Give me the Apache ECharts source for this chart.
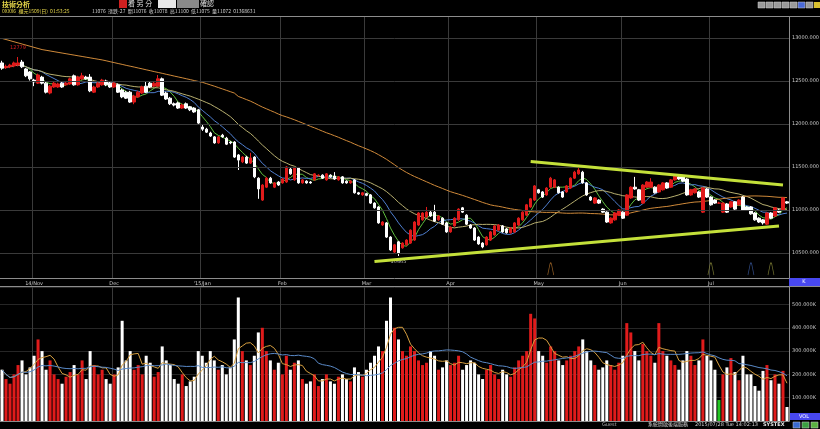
<!DOCTYPE html>
<html><head><meta charset="utf-8">
<script src="https://cdn.jsdelivr.net/npm/echarts@6/dist/echarts.min.js"></script>
<style>html,body{margin:0;padding:0;background:#000;overflow:hidden}#c{width:820px;height:429px}</style>
</head><body><div id="c"></div>
<script>
const opens = [12710,12655,12665,12675,12685,12720,12640,12605,12510,12475,12545,12475,12360,12430,12430,12475,12455,12465,12560,12455,
12525,12545,12545,12370,12430,12455,12500,12475,12430,12455,12395,12370,12370,12255,12315,12360,12440,12475,12440,12440,
12525,12360,12300,12235,12245,12185,12235,12200,12185,12165,11965,11940,11895,11850,11780,11870,11835,11790,11790,11640,
11560,11615,11545,11615,11370,11115,11265,11370,11265,11325,11315,11325,11475,11350,11490,11315,11335,11325,11350,11400,
11405,11350,11405,11395,11350,11385,11335,11315,11350,11200,11175,11190,11175,11080,11035,10825,10850,10685,10510,10630,
10560,10595,10615,10650,10825,10885,10920,10975,10975,10885,10905,10850,10745,10815,10885,11025,10940,10825,10790,10685,
10615,10595,10650,10710,10765,10815,10780,10735,10745,10825,10885,10940,11035,11115,11235,11210,11175,11265,11265,11265,
11210,11210,11255,11370,11420,11440,11315,11150,11080,11115,11010,10975,10850,10885,10940,10975,10940,11140,11265,11235,
11080,11265,11265,11265,11210,11235,11315,11265,11350,11385,11385,11360,11175,11200,11210,10975,11245,11150,11115,11080,
10975,11070,11035,11095,11060,11150,11035,11035,10965,10905,10885,10835,10965,10930,11000,11000,11095];
const closes = [12650,12670,12685,12710,12710,12665,12560,12525,12490,12570,12475,12370,12440,12475,12465,12430,12475,12525,12455,12545,
12560,12525,12385,12430,12475,12510,12455,12430,12475,12370,12315,12300,12255,12325,12370,12430,12370,12430,12475,12525,
12335,12290,12235,12220,12185,12220,12185,12165,12140,12010,11940,11905,11860,11780,11850,11850,11765,11780,11615,11580,
11615,11545,11605,11385,11245,11290,11370,11315,11315,11290,11360,11500,11420,11490,11315,11350,11315,11315,11420,11405,
11370,11420,11385,11360,11385,11315,11315,11335,11200,11185,11200,11170,11080,11025,10850,10860,10685,10535,10595,10500,
10615,10650,10765,10860,10965,10965,10975,10930,10870,10930,10835,10745,10800,10905,11010,10975,10835,10790,10650,10605,
10570,10685,10745,10815,10825,10745,10735,10790,10850,10905,10975,11060,11130,11280,11200,11150,11255,11370,11350,11200,
11150,11280,11370,11440,11465,11315,11175,11115,11140,11080,10975,10860,10905,10965,11000,10905,11175,11265,11245,11115,
11290,11325,11325,11200,11290,11315,11255,11350,11395,11360,11335,11175,11235,11245,11150,11255,11150,11060,11080,11080,
11080,10975,11095,11010,11115,11000,11000,10955,10885,10860,10850,10965,10905,11025,10975,11140,11080];
const lows = [12630,12640,12650,12660,12670,12650,12545,12505,12440,12465,12460,12355,12345,12420,12420,12420,12445,12455,12445,12445,
12510,12515,12370,12360,12420,12445,12440,12420,12420,12360,12300,12290,12245,12230,12305,12350,12360,12420,12430,12430,
12325,12280,12220,12205,12175,12175,12175,12150,12130,12000,11920,11895,11850,11770,11770,11840,11755,11765,11605,11465,
11545,11535,11535,11370,11130,11105,11255,11305,11255,11280,11305,11315,11410,11340,11305,11305,11305,11305,11340,11390,
11360,11340,11375,11350,11340,11305,11305,11305,11190,11175,11165,11160,11070,11015,10840,10815,10675,10525,10500,10465,
10550,10585,10605,10640,10815,10875,10910,10920,10860,10875,10825,10735,10735,10805,10875,10965,10825,10780,10640,10595,
10555,10585,10640,10700,10755,10735,10725,10725,10735,10815,10875,10930,11025,11105,11190,11140,11165,11255,11255,11190,
11140,11200,11245,11360,11410,11305,11165,11105,11070,11070,10965,10850,10840,10875,10930,10895,10930,11130,11235,11105,
11070,11255,11255,11190,11200,11225,11245,11255,11340,11350,11325,11165,11165,11190,11140,10965,11140,11050,11070,11070,
10965,10965,11025,11000,11050,10990,10990,10945,10875,10850,10830,10825,10895,10920,10965,10990,11070];
const highs = [12735,12690,12700,12725,12779,12745,12650,12615,12525,12585,12560,12490,12455,12490,12480,12490,12490,12540,12575,12560,
12595,12560,12580,12445,12490,12525,12515,12490,12490,12470,12410,12385,12385,12340,12385,12445,12490,12490,12490,12570,
12540,12375,12315,12250,12260,12235,12250,12210,12195,12175,11990,11955,11910,11860,11860,11885,11850,11800,11800,11650,
11625,11630,11665,11625,11380,11300,11385,11385,11325,11335,11370,11510,11490,11500,11500,11360,11345,11335,11430,11415,
11415,11430,11415,11440,11395,11395,11345,11345,11360,11210,11210,11200,11185,11090,11045,10870,10860,10695,10605,10640,
10625,10660,10775,10870,10975,10975,11035,10990,11060,10940,10915,10860,10810,10915,11020,11035,10950,10835,10800,10695,
10625,10695,10755,10825,10835,10825,10790,10800,10860,10915,10985,11070,11140,11290,11245,11220,11265,11385,11360,11275,
11220,11290,11380,11455,11500,11455,11325,11160,11150,11125,11020,10985,10915,10975,11010,10985,11185,11275,11385,11245,
11300,11335,11370,11275,11300,11325,11325,11360,11405,11395,11395,11370,11245,11255,11220,11265,11255,11160,11125,11095,
11090,11080,11105,11105,11125,11160,11045,11045,10975,10915,10895,10975,10975,11035,11010,11150,11105];
const volumes = [220,180,160,200,240,260,200,230,280,350,300,220,260,200,180,160,190,210,240,200,
260,180,300,240,200,220,180,160,200,230,430,260,300,220,240,200,280,250,190,210,
320,260,240,180,160,200,150,170,190,300,280,250,300,260,220,240,200,230,350,530,
300,260,240,280,380,400,300,260,220,250,200,280,220,250,260,180,160,170,200,150,
180,200,170,160,190,200,180,170,230,210,190,220,250,280,320,300,430,530,400,350,
300,280,320,300,260,240,250,300,280,220,230,260,240,250,280,220,240,260,250,200,
180,220,240,200,180,220,200,190,230,260,280,300,460,440,300,280,250,320,300,260,
240,260,280,300,320,350,300,260,240,220,230,260,240,220,250,280,420,380,300,260,
330,300,280,250,420,300,280,260,240,220,260,300,280,240,260,350,280,260,220,90,
200,230,270,210,175,280,200,200,150,130,215,240,175,200,160,215,60];
const ma60Head = [12995,12982,12969,12956,12943,12930,12917,12904,12891,12878,12865,12857,12849,12841,12833,12825,12817,12809,12801,12793,
12785,12777,12769,12761,12753,12745,12735,12724,12714,12703,12693,12682,12672,12662,12651,12641,12630,12620,12609,12599,
12589,12578,12568,12557,12547,12537,12526,12516,12505,12495,12485,12470,12455,12440,12424,12408,12392,12376,12360];
const monthStarts = [8,28,50,70,91,112,134,155,177];
const monthLabels = ['14/Nov','Dec',"'15/Jan",'Feb','Mar','Apr','May','Jun','Jul'];
const priceTicks = [10500,11000,11500,12000,12500,13000];
const upperTrend = [[132,11563],[195,11291]];
const lowerTrend = [[93,10402],[194,10814]];
const signalIdx = [137,177,187,192];
const signalColors = ['#b0702a','#8a8a3a','#3a5aa0','#8a8a3a'];

const N = closes.length;
const cats = closes.map((_, i) => String(i));
function avg(a){let s=0;for(const v of a)s+=v;return s/a.length;}
function ma(arr,n){return arr.map((_,i)=>+avg(arr.slice(Math.max(0,i-n+1),i+1)).toFixed(2));}
const ma5 = ma(closes,5), ma10 = ma(closes,10), ma20 = ma(closes,20);
const ma60 = closes.map((_,i)=> i<59 ? ma60Head[i] : +avg(closes.slice(i-59,i+1)).toFixed(2));
const vol = volumes.map(v=>v*1000);
const vma5 = ma(vol,5), vma20 = ma(vol,20);
const candles = closes.map((c,i)=>[opens[i],c,lows[i],highs[i]]);
let hiI=0, loI=0;
highs.forEach((h,i)=>{if(h>highs[hiI])hiI=i;});
lows.forEach((l,i)=>{if(l<lows[loI])loI=i;});
const RED='#e01b1b', WHITE='#ffffff';
const volBars = vol.map((v,i)=>({value:v,itemStyle:{color: closes[i]>opens[i]?RED:(closes[i]<opens[i]?WHITE:'#22c422')}}));
const GRID='#3a3a3a', AX='#8c8c8c', TXT='#c8c8c8';
const F5='5px "DejaVu Sans"';
const isMonth = (i)=>monthStarts.indexOf(i)>=0;

const chart = echarts.init(document.getElementById('c'), null, {renderer:'canvas'});
const lineS = (name,data,color,xi)=>({name,type:'line',data,xAxisIndex:xi,yAxisIndex:xi,symbol:'none',smooth:false,lineStyle:{color,width:1},silent:true,z:3});
const icons = [];
[758,766,774,782,790,798,806].forEach((x,k)=>icons.push({type:'rect',shape:{x:x,y:2,width:7,height:6},style:{fill:k===5?'#4a6ad8':'#9a9a9a',stroke:'#cfcfcf',lineWidth:0.5}}));
icons.push({type:'rect',shape:{x:814,y:2,width:6,height:6},style:{fill:'#d8c030'}});
[[793,'#3a6ad0'],[802,'#3aa040'],[811,'#5ab040']].forEach(([x,c])=>icons.push({type:'rect',shape:{x:x,y:422,width:7,height:6},style:{fill:c,stroke:'#cfcfcf',lineWidth:0.5}}));
chart.setOption({
  backgroundColor:'#000',
  animation:false,
  grid:[{left:0,right:31,top:17,height:261},{left:0,right:31,top:287,height:134}],
  xAxis:[
    {type:'category',gridIndex:0,data:cats,boundaryGap:true,
     axisLine:{lineStyle:{color:AX}},axisTick:{show:false},
     axisLabel:{interval:(i)=>isMonth(i),formatter:(v,i)=>monthLabels[monthStarts.indexOf(+v)]||'',color:TXT,fontSize:5,margin:3,fontFamily:'DejaVu Sans'},
     splitLine:{show:true,interval:(i)=>isMonth(i),lineStyle:{color:GRID,width:1}}},
    {type:'category',gridIndex:1,data:cats,boundaryGap:true,
     axisLine:{lineStyle:{color:AX}},axisTick:{show:false},axisLabel:{show:false},
     splitLine:{show:true,interval:(i)=>isMonth(i),lineStyle:{color:GRID,width:1}}}
  ],
  yAxis:[
    {type:'value',gridIndex:0,position:'right',min:10209,max:13244,axisLine:{show:true,lineStyle:{color:AX}},axisLabel:{show:false},axisTick:{show:false},splitLine:{show:false}},
    {type:'value',gridIndex:1,position:'right',min:0,max:575000,interval:100000,axisLine:{show:true,lineStyle:{color:AX}},axisTick:{show:false},
     axisLabel:{showMinLabel:false,showMaxLabel:false,color:TXT,fontSize:5,margin:3,fontFamily:'DejaVu Sans',formatter:(v)=>(v%100000===0&&v>0)?(v/1000).toFixed(3)+'K':''},
     splitLine:{show:true,lineStyle:{color:'#262626'}}}
  ],
  series:[
    {type:'line',xAxisIndex:0,yAxisIndex:0,data:[],silent:true,z:1,
     markLine:{silent:true,symbol:['none','none'],lineStyle:{color:GRID,type:'solid',width:1},
       label:{position:'end',distance:3,color:TXT,fontSize:5,fontFamily:'DejaVu Sans',formatter:(p)=>p.value.toFixed(3)},
       data:priceTicks.map(v=>({yAxis:v}))}},
    {type:'candlestick',xAxisIndex:0,yAxisIndex:0,data:candles,barWidth:3,z:4,
     itemStyle:{color:RED,color0:WHITE,borderColor:RED,borderColor0:WHITE,borderWidth:1},
     markPoint:{symbol:'circle',symbolSize:0,silent:true,
       data:[{coord:[hiI,highs[hiI]],label:{show:true,formatter:String(highs[hiI]),color:'#d02020',fontSize:5,offset:[0,-9],fontFamily:'DejaVu Sans'}},
             {coord:[loI,lows[loI]],label:{show:true,formatter:String(lows[loI]),color:'#b0b0b0',fontSize:5,offset:[0,6],fontFamily:'DejaVu Sans'}}]}},
    lineS('MA5',ma5,'#5fbf3f',0),
    lineS('MA10',ma10,'#4f7fd0',0),
    lineS('MA20',ma20,'#b8b070',0),
    lineS('MA60',ma60,'#d08a3a',0),
    {type:'line',xAxisIndex:0,yAxisIndex:0,data:upperTrend,symbol:'none',lineStyle:{color:'#c4e03a',width:3},silent:true,z:5},
    {type:'line',xAxisIndex:0,yAxisIndex:0,data:lowerTrend,symbol:'none',lineStyle:{color:'#c4e03a',width:3},silent:true,z:5},
    {type:'scatter',xAxisIndex:0,yAxisIndex:0,silent:true,z:5,
     data:signalIdx.map((ix,k)=>({value:[ix,10314],itemStyle:{color:'none',borderColor:signalColors[k],borderWidth:1}})),
     symbol:'path://M0,12 L3,2 Q4,0 5,2 L8,12',symbolSize:[6,12]},
    {type:'bar',xAxisIndex:1,yAxisIndex:1,data:volBars,barWidth:3,z:2},
    lineS('VMA5',vma5,'#d8a040',1),
    lineS('VMA20',vma20,'#5a8ac8',1)
  ],
  graphic:[
    {type:'rect',shape:{x:0,y:0,width:820,height:17},style:{fill:'#000'},z:0},
    {type:'line',shape:{x1:0,y1:16.5,x2:820,y2:16.5},style:{stroke:AX,lineWidth:1}},
    {type:'line',shape:{x1:0,y1:286.5,x2:820,y2:286.5},style:{stroke:AX,lineWidth:1}},
    {type:'text',left:2,top:1,style:{text:'技術分析',fill:'#e8d84a',font:'bold 7px "Noto Sans CJK TC"'}},
    {type:'rect',shape:{x:119,y:0,width:8,height:8},style:{fill:'#d02020'}},
    {type:'text',left:128,top:0,style:{text:'看 另 分',fill:'#e0e0e0',font:'7px "Noto Sans CJK TC"'}},
    {type:'rect',shape:{x:158,y:0,width:18,height:8},style:{fill:'#e8e8e8'}},
    {type:'rect',shape:{x:177,y:0,width:22,height:8},style:{fill:'#8a8a8a'}},
    {type:'text',left:200,top:0,style:{text:'確認',fill:'#e0e0e0',font:'7px "Noto Sans CJK TC"'}},
    {type:'text',left:2,top:9,style:{text:'0XXX6  櫃元1509(日)  01:53:25',fill:'#e8d84a',font:'5px "Noto Sans CJK TC"'}},
    {type:'text',left:92,top:9,style:{text:'11076  漲跌-27  開11076  收11078  高11100  低11075  量11072  01368631',fill:'#d0d0d0',font:'5px "Noto Sans CJK TC"'}},
    {type:'rect',shape:{x:789,y:278,width:31,height:8},style:{fill:'#4848f0'}},
    {type:'text',x:804,y:282,style:{text:'K',fill:'#fff',font:F5,textAlign:'center',textVerticalAlign:'middle'}},
    {type:'rect',shape:{x:789,y:413,width:31,height:7},style:{fill:'#4848f0'}},
    {type:'text',x:804,y:416.5,style:{text:'VOL',fill:'#fff',font:F5,textAlign:'center',textVerticalAlign:'middle'}},
    {type:'text',left:602,top:422,style:{text:'Guest',fill:'#b0b0b0',font:F5}},
    {type:'text',left:648,top:422,style:{text:'系統開啟後端服務',fill:'#d0d0d0',font:'5px "Noto Sans CJK TC"'}},
    {type:'text',left:695,top:422,style:{text:'2015/07/28 Tue 14:02:13',fill:'#d0d0d0',font:F5}},
    {type:'text',left:763,top:422,style:{text:'SYSTEX',fill:'#e8e8e8',font:'bold 5px "DejaVu Sans"'}}
  ].concat(icons)
});
</script></body></html>
